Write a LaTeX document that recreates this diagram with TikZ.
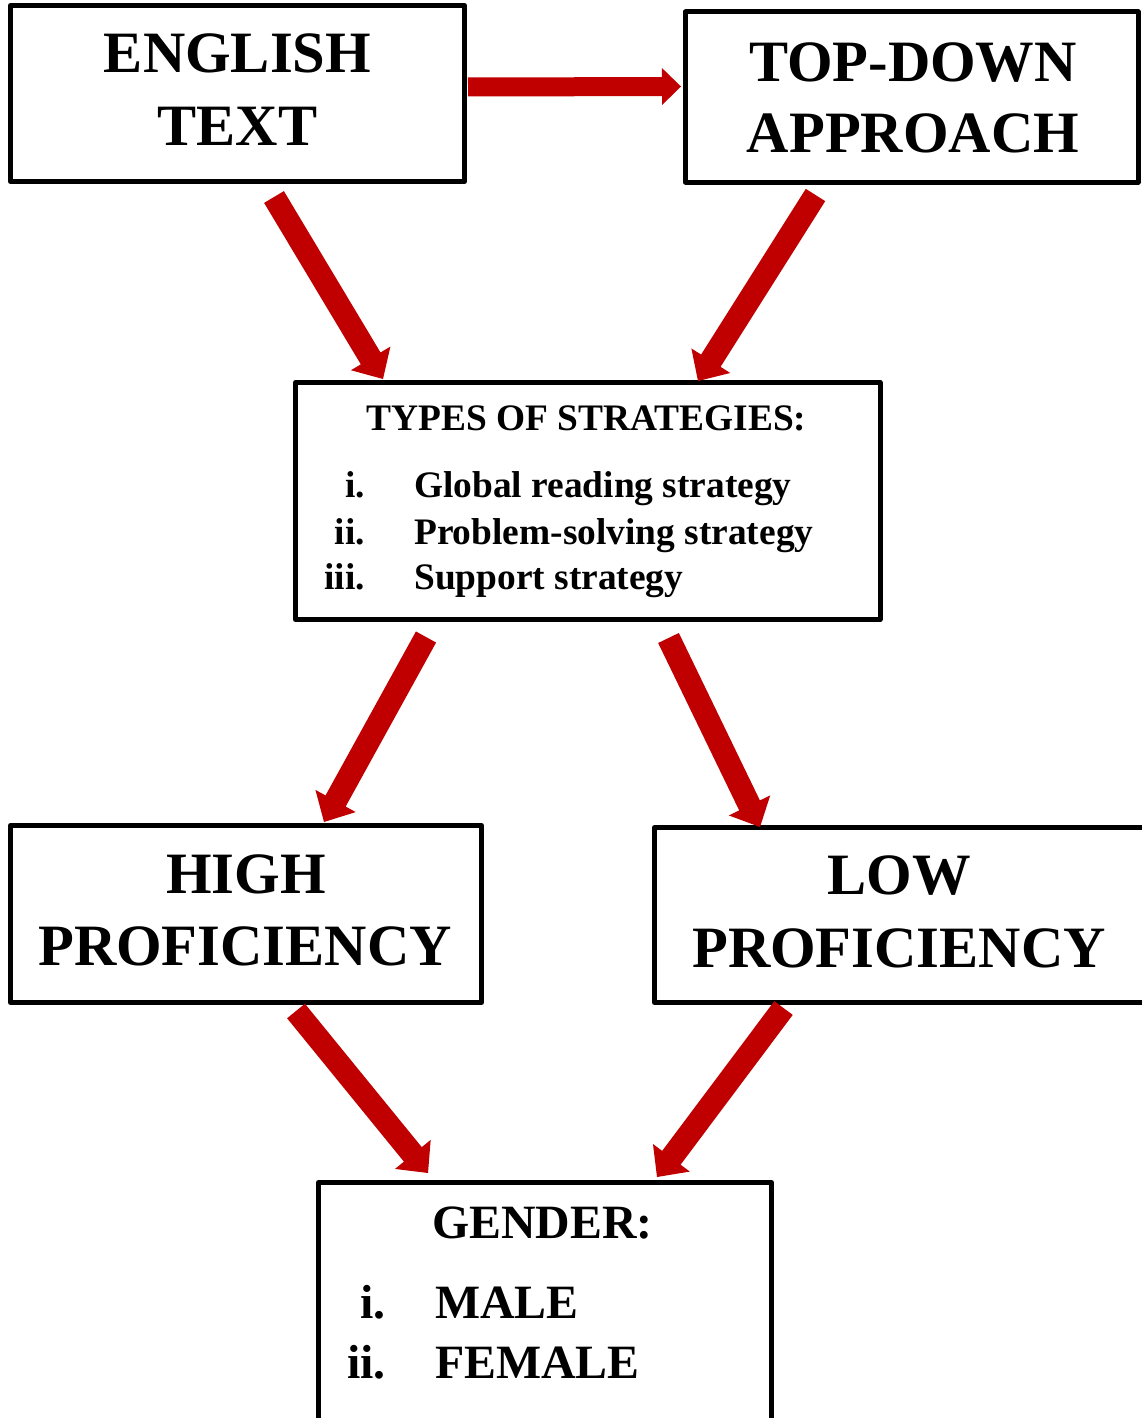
\documentclass[tikz,border=0pt]{standalone}
\usepackage{fontspec}
\setmainfont{Liberation Serif}
\usetikzlibrary{calc}
\definecolor{arrred}{HTML}{C00000}
\tikzset{
  box/.style={draw=black, line width=5pt, inner sep=0pt, outer sep=0pt, rectangle, line join=round},
  bigtxt/.style={font=\fontsize{58.6}{70}\selectfont\bfseries, inner sep=0pt, anchor=base},
  midtxt/.style={font=\fontsize{37.4}{44}\selectfont\bfseries, inner sep=0pt},
  gentxt/.style={font=\fontsize{47.8}{56}\selectfont\bfseries, inner sep=0pt},
}
% start, end, shaft half width, head half width, head length
\newcommand{\blockarrow}[5]{%
  \coordinate (ba-c) at ($#2!#5!#1$);
  \fill[arrred] ($#1!#3!90:#2$) -- ($(ba-c)!#3!-90:#1$) -- ($(ba-c)!#4!-90:#1$) -- #2
     -- ($(ba-c)!#4!90:#1$) -- ($(ba-c)!#3!90:#1$) -- ($#1!#3!-90:#2$) -- cycle;
}
\begin{document}
\begin{tikzpicture}[x=1pt, y=-1pt]
\useasboundingbox (0,0) rectangle (1142,1418);
\fill[white] (0,0) rectangle (1142,1418);
\clip (0,0) rectangle (1142,1418);

% boxes
\node[box, minimum width=454pt, minimum height=176pt] (eng) at (237.5,93.5) {};
\node[box, minimum width=452.5pt, minimum height=170pt] (td) at (911.75,97) {};
\node[box, minimum width=584.5pt, minimum height=237pt] (strat) at (587.75,501) {};
\node[box, minimum width=471pt, minimum height=177pt] (high) at (246,914) {};
\node[box, minimum width=495.5pt, minimum height=175pt] (low) at (902.25,915) {};
\node[box, minimum width=453pt, minimum height=242.5pt] (gender) at (545,1303.75) {};

% texts
\node[bigtxt] (engA) at (237.5,73) {ENGLISH};
\node[bigtxt] (engB) at (237.5,146) {TEXT};
\node[bigtxt] (tdA) at (913,82) {TOP-DOWN};
\node[bigtxt] (tdB) at (913,153) {APPROACH};
\node[bigtxt] (highA) at (246,893) {HIGH};
\node[bigtxt] (highB) at (245,965) {PROFICIENCY};
\node[bigtxt] (lowA) at (899,894) {LOW};
\node[bigtxt] (lowB) at (899,967) {PROFICIENCY};

\node[midtxt, anchor=base] (stT) at (586.5,430) {TYPES OF STRATEGIES:};
\node[midtxt, anchor=base east] (stn1) at (365,497) {i.};
\node[midtxt, anchor=base east] (stn2) at (365,544) {ii.};
\node[midtxt, anchor=base east] (stn3) at (365,589) {iii.};
\node[midtxt, anchor=base west] (st1) at (414,497) {Global reading strategy};
\node[midtxt, anchor=base west] (st2) at (414,544) {Problem-solving strategy};
\node[midtxt, anchor=base west] (st3) at (414,589) {Support strategy};

\node[gentxt, anchor=base] (gT) at (542.5,1238) {GENDER:};
\node[gentxt, anchor=base east] (gn1) at (386,1318) {i.};
\node[gentxt, anchor=base east] (gn2) at (386,1378) {ii.};
\node[gentxt, anchor=base west] (g1) at (435,1318) {MALE};
\node[gentxt, anchor=base west] (g2) at (435,1378) {FEMALE};

% arrow end points
\coordinate (a1s) at ($(eng.east)+(3.5,-6.5)$);
\coordinate (a1e) at ($(td.west)+(-4.5,-10.5)$);
\coordinate (a2s) at ($(eng.south)+(36.5,15.5)$);
\coordinate (a2e) at ($(strat.north west)+(87.5,-3.5)$);
\coordinate (a3s) at ($(td.south)+(-96.25,13)$);
\coordinate (a3e) at ($(strat.north east)+(-182,-1.5)$);
\coordinate (a4s) at ($(strat.south)+(-161.75,17.5)$);
\coordinate (a4e) at ($(high.north)+(78,-3.5)$);
\coordinate (a5s) at ($(strat.south)+(80.75,18.5)$);
\coordinate (a5e) at ($(low.north west)+(105.5,-0.5)$);
\coordinate (a6s) at ($(high.south)+(50,8.5)$);
\coordinate (a6e) at ($(gender.north west)+(109.5,-9.5)$);
\coordinate (a7s) at ($(low.south west)+(129,5.5)$);
\coordinate (a7e) at ($(gender.north east)+(-114.5,-5.5)$);

\blockarrow{(a1s)}{(a1e)}{9.5pt}{18.5pt}{19pt}
\blockarrow{(a2s)}{(a2e)}{11.5pt}{23pt}{24pt}
\blockarrow{(a3s)}{(a3e)}{11.5pt}{23pt}{24pt}
\blockarrow{(a4s)}{(a4e)}{11.5pt}{23pt}{24pt}
\blockarrow{(a5s)}{(a5e)}{11.5pt}{23pt}{24pt}
\blockarrow{(a6s)}{(a6e)}{11.5pt}{23pt}{24pt}
\blockarrow{(a7s)}{(a7e)}{11.5pt}{23pt}{24pt}
\end{tikzpicture}
\end{document}
